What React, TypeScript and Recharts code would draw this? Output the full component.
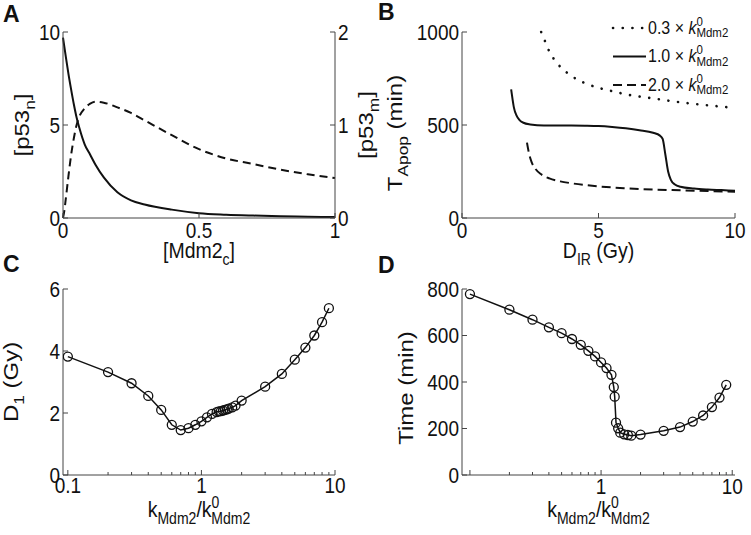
import React from "react";
import { LineChart, Line, XAxis, YAxis, Legend } from "recharts";

const FONT = '"Liberation Sans", Arial, Helvetica, sans-serif';
const INK = "#111";
const AXIS = "#444";
const FS = 19;
const VS = 1.12; // glyphs in the figure are a bit taller than wide
const RS = 1.2; // rotated titles run longer

// panel A: steady state vs [Mdm2c]
const aMdm2N = [0, 0.01, 0.02, 0.03, 0.04, 0.05, 0.06, 0.08, 0.1, 0.12, 0.15, 0.2, 0.25, 0.3, 0.4, 0.5, 0.6, 0.7, 0.8, 0.9, 1.0];
const aP53n = [9.7, 8.7, 7.75, 6.9, 6.1, 5.4, 4.85, 3.95, 3.4, 2.85, 2.18, 1.38, 0.95, 0.73, 0.45, 0.26, 0.18, 0.13, 0.09, 0.07, 0.05];
const aMdm2M = [0, 0.005, 0.01, 0.02, 0.03, 0.04, 0.05, 0.06, 0.08, 0.1, 0.12, 0.15, 0.2, 0.25, 0.3, 0.4, 0.5, 0.6, 0.7, 0.8, 0.9, 1.0];
const aP53m = [0, 0.08, 0.2, 0.45, 0.68, 0.86, 1.0, 1.09, 1.18, 1.23, 1.25, 1.24, 1.19, 1.13, 1.05, 0.89, 0.74, 0.64, 0.58, 0.52, 0.47, 0.43];

// panel B: apoptosis time vs dose
const bFactors = ["0.3", "1.0", "2.0"];
const bDose03 = [2.9, 3.0, 3.2, 3.5, 4, 4.5, 5, 5.5, 6, 7, 8, 9, 10];
const bT03 = [1000, 965, 895, 830, 765, 725, 700, 682, 665, 643, 622, 606, 592];
const bDose10 = [1.8, 1.85, 1.9, 2.0, 2.1, 2.25, 2.5, 3, 4, 4.5, 5, 5.5, 6, 6.5, 7, 7.25, 7.35, 7.45, 7.55, 7.65, 7.8, 8, 8.5, 9, 9.5, 10];
const bT10 = [692, 640, 595, 550, 528, 512, 503, 497, 497, 496, 494, 489, 482, 472, 458, 443, 425, 340, 250, 205, 180, 168, 158, 153, 150, 147];
const bDose20 = [2.38, 2.45, 2.55, 2.7, 2.9, 3.2, 3.6, 4, 5, 6, 7, 8, 9, 10];
const bT20 = [405, 350, 300, 262, 235, 213, 197, 187, 170, 160, 153, 149, 145, 141];

// panel C: threshold dose vs kMdm2 ratio
const cRatio = [0.1, 0.2, 0.3, 0.4, 0.5, 0.6, 0.7, 0.8, 0.9, 1.0, 1.1, 1.2, 1.3, 1.35, 1.4, 1.45, 1.5, 1.55, 1.6, 1.7, 1.8, 2, 3, 4, 5, 6, 7, 8, 9];
const cD1 = [3.82, 3.32, 2.96, 2.55, 2.1, 1.62, 1.45, 1.51, 1.62, 1.73, 1.86, 1.97, 2.03, 2.05, 2.06, 2.08, 2.1, 2.12, 2.14, 2.18, 2.24, 2.4, 2.85, 3.26, 3.72, 4.11, 4.5, 4.93, 5.38];

// panel D: time vs kMdm2 ratio
const dRatio = [0.1, 0.2, 0.3, 0.4, 0.5, 0.6, 0.7, 0.8, 0.9, 1.0, 1.1, 1.2, 1.25, 1.27, 1.3, 1.35, 1.4, 1.5, 1.6, 1.7, 2, 3, 4, 5, 6, 7, 8, 9];
const dTime = [778, 711, 668, 635, 610, 585, 560, 534, 510, 484, 460, 431, 378, 337, 225, 201, 182, 175, 172, 169, 174, 190, 206, 230, 256, 292, 333, 388];

const aXTicks = [0, 0.5, 1];
const aYLTicks = [0, 5, 10];
const aYRTicks = [0, 1, 2];
const bXTicks = [0, 5, 10];
const bYTicks = [0, 500, 1000];
const logTicks = [0.1, 0.2, 0.3, 0.4, 0.5, 0.6, 0.7, 0.8, 0.9, 1, 2, 3, 4, 5, 6, 7, 8, 9, 10];
const cXLabels = [0.1, 1, 10];
const dXLabels = [1, 10];
const cYTicks = [0, 2, 4, 6];
const dYTicks = [0, 200, 400, 600, 800];

const pts = (xs: number[], ys: number[]) => xs.map((x, i) => ({ x, y: ys[i] }));

type Part = { t: string; r?: "sub" | "sup"; dx?: number; i?: boolean };

const rich = (parts: Part[], fs: number) => {
  let cur = 0;
  return parts.map((p, k) => {
    const target = p.r === "sub" ? fs * 0.3 : p.r === "sup" ? -fs * 0.42 : 0;
    const dy = target - cur;
    cur = target;
    return (
      <tspan key={k} dy={dy || undefined} dx={p.dx} fontSize={p.r ? fs * 0.72 : fs} fontStyle={p.i ? "italic" : undefined}>
        {p.t}
      </tspan>
    );
  });
};

const Txt = ({ x, y, anchor = "middle", children }: any) => (
  <text x={0} y={0} transform={`translate(${x} ${y}) scale(1 ${VS})`} textAnchor={anchor} fontSize={FS} fill={INK} fontFamily={FONT}>
    {children}
  </text>
);

const yTitle = (parts: Part[], off: number, shift = 0) => (props: any) => {
  const vb = props.viewBox || {};
  const x = vb.x + off;
  const y = vb.y + vb.height / 2 + shift;
  return (
    <text x={0} y={0} transform={`translate(${x} ${y}) rotate(-90) scale(${RS} 1)`} textAnchor="middle" fontSize={20} fill={INK} fontFamily={FONT}>
      {rich(parts, 20)}
    </text>
  );
};

const xTitle = (parts: Part[], off: number) => (props: any) => {
  const vb = props.viewBox || {};
  return <Txt x={vb.x + vb.width / 2} y={vb.y + off}>{rich(parts, FS + 0.5)}</Txt>;
};

const near = (list: number[], v: number) => list.some((t) => Math.abs(t - v) < 1e-9);

// ticks point inward, like matlab
const xTick = (labels: number[] | null, majors: number[] | null, off: number) => (p: any) => {
  const v = p.payload.value;
  const major = !majors || near(majors, v);
  return (
    <g>
      <line x1={p.x} x2={p.x} y1={p.y} y2={p.y - (major ? 5 : 3)} stroke={AXIS} />
      {(!labels || near(labels, v)) && <Txt x={p.x} y={p.y + off}>{String(v)}</Txt>}
    </g>
  );
};

const yTickL = (p: any) => (
  <g>
    <line x1={p.x} x2={p.x + 5} y1={p.y} y2={p.y} stroke={AXIS} />
    <Txt x={p.x - 3} y={p.y + 7.5} anchor="end">{String(p.payload.value)}</Txt>
  </g>
);

const yTickR = (p: any) => (
  <g>
    <line x1={p.x} x2={p.x - 5} y1={p.y} y2={p.y} stroke={AXIS} />
    <Txt x={p.x + 3} y={p.y + 7.5} anchor="start">{String(p.payload.value)}</Txt>
  </g>
);

const axisProps = { axisLine: { stroke: AXIS }, tickLine: false, tickSize: 0, tickMargin: 0, interval: 0 as const };

const bSeries = [
  { f: bFactors[0], data: pts(bDose03, bT03), dash: "0.1 9.6", cap: "round" as const, w: 2.6 },
  { f: bFactors[1], data: pts(bDose10, bT10), dash: undefined, cap: "butt" as const, w: 2 },
  { f: bFactors[2], data: pts(bDose20, bT20), dash: "9 5", cap: "butt" as const, w: 2 },
];

const BLegend = () => (
  <svg width={140} height={92} style={{ display: "block" }}>
    {bSeries.map((s, i) => {
      const y = 18 + i * 28.5;
      return (
        <g key={s.f}>
          <line x1={2} x2={35} y1={y} y2={y} stroke={INK} strokeWidth={s.w} strokeDasharray={s.dash} strokeLinecap={s.cap} />
          <text x={0} y={0} transform={`translate(37 ${y + 5.5}) scale(1 ${VS})`} fontSize={16} fill={INK} fontFamily={FONT}>
            <tspan>{s.f} × </tspan>
            <tspan fontStyle="italic">k</tspan>
            <tspan dy={-7} fontSize={11.5}>0</tspan>
            <tspan dx={-6.4} dy={10.5} fontSize={11.5}>Mdm2</tspan>
          </text>
        </g>
      );
    })}
  </svg>
);

const ratioLabel: Part[] = [
  { t: "k" },
  { t: "Mdm2", r: "sub" },
  { t: "/k" },
  { t: "0", r: "sup" },
  { t: "Mdm2", r: "sub", dx: -8 },
];

const letter = (t: string, x: number, y: number) => (
  <text x={x} y={y} fontSize={23} fontWeight="bold" fill={INK} fontFamily={FONT}>
    {t}
  </text>
);

export default function App() {
  const circle = { r: 4.5, stroke: INK, strokeWidth: 1.3, fill: "none" };
  return (
    <div style={{ position: "absolute", left: 0, top: 0, width: 751, height: 535, background: "#fff", overflow: "hidden" }}>
      <div style={{ position: "absolute", left: 0, top: 0 }}>
        <LineChart width={390} height={275} margin={{ top: 32, right: 0, bottom: 0, left: 0 }}>
          <XAxis type="number" dataKey="x" domain={[0, 1]} ticks={aXTicks} height={57} {...axisProps} tick={xTick(null, null, 20)}
            label={{ content: xTitle([{ t: "[Mdm2" }, { t: "c", r: "sub" }, { t: "]" }], 40) }} />
          <YAxis yAxisId="l" type="number" domain={[0, 10]} ticks={aYLTicks} width={63} {...axisProps} tick={yTickL}
            label={{ content: yTitle([{ t: "[p53" }, { t: "n", r: "sub" }, { t: "]" }], 29) }} />
          <YAxis yAxisId="r" orientation="right" type="number" domain={[0, 2]} ticks={aYRTicks} width={55} {...axisProps} tick={yTickR}
            label={{ content: yTitle([{ t: "[p53" }, { t: "m", r: "sub" }, { t: "]" }], 38) }} />
          <Line yAxisId="l" data={pts(aMdm2N, aP53n)} dataKey="y" type="monotone" stroke={INK} strokeWidth={2} dot={false} activeDot={false} isAnimationActive={false} />
          <Line yAxisId="r" data={pts(aMdm2M, aP53m)} dataKey="y" type="monotone" stroke={INK} strokeWidth={2} strokeDasharray="8 5" dot={false} activeDot={false} isAnimationActive={false} />
        </LineChart>
      </div>

      <div style={{ position: "absolute", left: 375, top: 0 }}>
        <LineChart width={376} height={275} margin={{ top: 32, right: 16, bottom: 0, left: 0 }}>
          <XAxis type="number" dataKey="x" domain={[0, 10]} ticks={bXTicks} height={57} {...axisProps} tick={xTick(null, null, 20)}
            label={{ content: xTitle([{ t: "D" }, { t: "IR", r: "sub" }, { t: " (Gy)" }], 40) }} />
          <YAxis type="number" domain={[0, 1000]} ticks={bYTicks} width={87} {...axisProps} tick={yTickL}
            label={{ content: yTitle([{ t: "T" }, { t: "Apop", r: "sub" }, { t: " (min)" }], 27, 8) }} />
          {bSeries.map((s) => (
            <Line key={s.f} data={s.data} dataKey="y" name={s.f} type="monotone" stroke={INK} strokeWidth={s.w} strokeDasharray={s.dash}
              strokeLinecap={s.cap} dot={false} activeDot={false} isAnimationActive={false} />
          ))}
          <Legend layout="vertical" align="center" verticalAlign="middle" content={() => <BLegend />}
            wrapperStyle={{ position: "absolute", left: 236, top: 10, width: 140, height: 92 }} />
        </LineChart>
      </div>

      <div style={{ position: "absolute", left: 0, top: 260 }}>
        <LineChart width={375} height={275} margin={{ top: 29, right: 40, bottom: 0, left: 0 }}>
          <XAxis type="number" dataKey="x" scale="log" domain={[0.092, 10]} allowDataOverflow ticks={logTicks} height={60} {...axisProps}
            tick={xTick(cXLabels, cXLabels, 18)} label={{ content: xTitle(ratioLabel, 42) }} />
          <YAxis type="number" domain={[0, 6]} ticks={cYTicks} width={63} {...axisProps} tick={yTickL}
            label={{ content: yTitle([{ t: "D" }, { t: "1", r: "sub" }, { t: " (Gy)" }], 18) }} />
          <Line data={pts(cRatio, cD1)} dataKey="y" type="linear" stroke={INK} strokeWidth={1.5} dot={circle} activeDot={false} isAnimationActive={false} />
        </LineChart>
      </div>

      <div style={{ position: "absolute", left: 375, top: 260 }}>
        <LineChart width={376} height={275} margin={{ top: 29, right: 16, bottom: 0, left: 0 }}>
          <XAxis type="number" dataKey="x" scale="log" domain={[0.087, 10.5]} allowDataOverflow ticks={logTicks} height={60} {...axisProps}
            tick={xTick(dXLabels, cXLabels, 19)} label={{ content: xTitle(ratioLabel, 42) }} />
          <YAxis type="number" domain={[0, 800]} ticks={dYTicks} width={87} {...axisProps} tick={yTickL}
            label={{ content: yTitle([{ t: "Time (min)" }], 38, 6) }} />
          <Line data={pts(dRatio, dTime)} dataKey="y" type="linear" stroke={INK} strokeWidth={1.5} dot={circle} activeDot={false} isAnimationActive={false} />
        </LineChart>
      </div>

      <svg width={751} height={535} style={{ position: "absolute", left: 0, top: 0, pointerEvents: "none" }}>
        {letter("A", 3, 22)}
        {letter("B", 378, 20)}
        {letter("C", 3, 272)}
        {letter("D", 378, 273)}
      </svg>
    </div>
  );
}
